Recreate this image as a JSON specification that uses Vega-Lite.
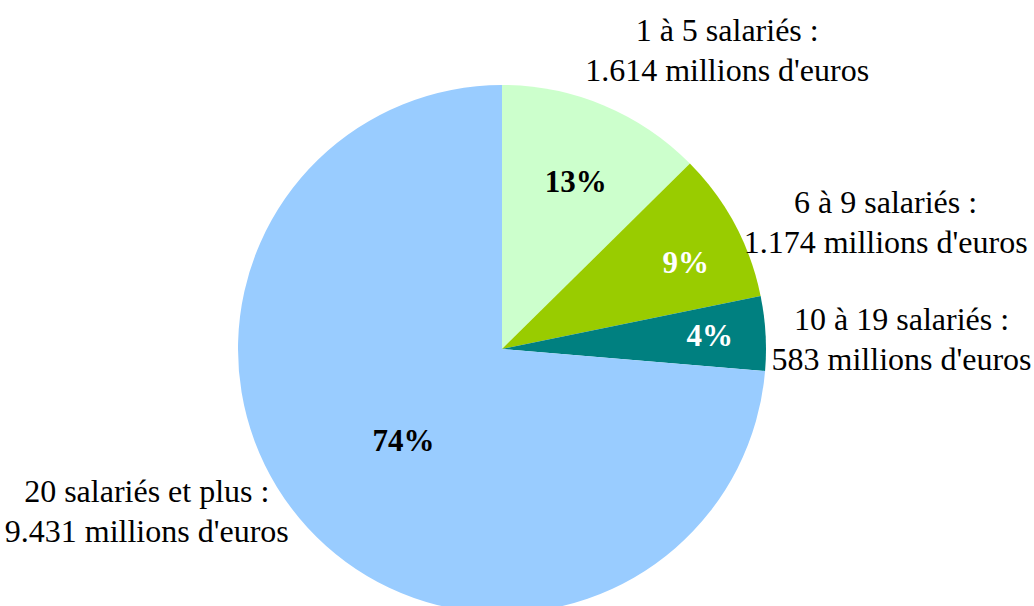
{
  "$schema": "https://vega.github.io/schema/vega-lite/v6.json",
  "width": 1004,
  "height": 514,
  "autosize": {"type": "none"},
  "padding": {"left": 0, "top": 92, "right": 30, "bottom": 0},
  "background": "white",
  "title": {
    "text": "(Source : INSEE – EAE)",
    "font": "Liberation Serif, Times New Roman, serif",
    "fontSize": 29,
    "fontStyle": "italic",
    "fontWeight": "normal",
    "color": "black",
    "anchor": "middle",
    "frame": "group",
    "baseline": "alphabetic",
    "offset": -6,
    "dx": -37
  },
  "data": {
    "values": [
      {"cat": "1 à 5 salariés", "rank": 1, "value": 1614, "pct": "13%", "label": "1 à 5 salariés :\n1.614 millions d'euros"},
      {"cat": "6 à 9 salariés", "rank": 2, "value": 1174, "pct": "9%", "label": "6 à 9 salariés :\n1.174 millions d'euros"},
      {"cat": "10 à 19 salariés", "rank": 3, "value": 583, "pct": "4%", "label": "10 à 19 salariés  :\n583 millions d'euros"},
      {"cat": "20 salariés et plus", "rank": 4, "value": 9431, "pct": "74%", "label": "20 salariés et plus :\n9.431 millions d'euros"}
    ]
  },
  "encoding": {
    "theta": {"field": "value", "type": "quantitative", "stack": true},
    "order": {"field": "rank", "type": "quantitative"}
  },
  "layer": [
    {
      "mark": {"type": "arc", "outerRadius": 264},
      "encoding": {
        "color": {
          "field": "cat",
          "type": "nominal",
          "scale": {
            "domain": ["1 à 5 salariés", "6 à 9 salariés", "10 à 19 salariés", "20 salariés et plus"],
            "range": ["#CCFFCC", "#99CC00", "#008080", "#99CCFF"]
          },
          "legend": null
        }
      }
    },
    {
      "mark": {"type": "text", "font": "Liberation Serif, Times New Roman, serif", "fontSize": 31, "fontWeight": "bold", "color": "black", "align": "center", "baseline": "alphabetic", "dx": 7, "dy": 3},
      "encoding": {
        "radius": {"value": 173},
        "text": {"condition": {"test": "datum.rank === 1", "field": "pct"}, "value": ""}
      }
    },
    {
      "mark": {"type": "text", "font": "Liberation Serif, Times New Roman, serif", "fontSize": 31, "fontWeight": "bold", "color": "white", "align": "center", "baseline": "alphabetic", "dx": 9, "dy": 17},
      "encoding": {
        "radius": {"value": 198},
        "text": {"condition": {"test": "datum.rank === 2", "field": "pct"}, "value": ""}
      }
    },
    {
      "mark": {"type": "text", "font": "Liberation Serif, Times New Roman, serif", "fontSize": 31, "fontWeight": "bold", "color": "white", "align": "center", "baseline": "alphabetic", "dx": 0, "dy": 9},
      "encoding": {
        "radius": {"value": 208},
        "text": {"condition": {"test": "datum.rank === 3", "field": "pct"}, "value": ""}
      }
    },
    {
      "mark": {"type": "text", "font": "Liberation Serif, Times New Roman, serif", "fontSize": 31, "fontWeight": "bold", "color": "black", "align": "center", "baseline": "alphabetic", "dx": 6, "dy": 6},
      "encoding": {
        "radius": {"value": 142},
        "text": {"condition": {"test": "datum.rank === 4", "field": "pct"}, "value": ""}
      }
    },
    {
      "mark": {"type": "text", "font": "Liberation Serif, Times New Roman, serif", "fontSize": 32, "color": "black", "align": "center", "baseline": "alphabetic", "lineBreak": "\n", "lineHeight": 40, "dx": 94, "dy": 6},
      "encoding": {
        "radius": {"value": 340},
        "text": {"condition": {"test": "datum.rank === 1", "field": "label"}, "value": ""}
      }
    },
    {
      "mark": {"type": "text", "font": "Liberation Serif, Times New Roman, serif", "fontSize": 32, "color": "black", "align": "center", "baseline": "alphabetic", "lineBreak": "\n", "lineHeight": 40, "dx": 119, "dy": 5},
      "encoding": {
        "radius": {"value": 300},
        "text": {"condition": {"test": "datum.rank === 2", "field": "label"}, "value": ""}
      }
    },
    {
      "mark": {"type": "text", "font": "Liberation Serif, Times New Roman, serif", "fontSize": 32, "color": "black", "align": "center", "baseline": "alphabetic", "lineBreak": "\n", "lineHeight": 40, "dx": 150, "dy": -4},
      "encoding": {
        "radius": {"value": 250},
        "text": {"condition": {"test": "datum.rank === 3", "field": "label"}, "value": ""}
      }
    },
    {
      "mark": {"type": "text", "font": "Liberation Serif, Times New Roman, serif", "fontSize": 32, "color": "black", "align": "center", "baseline": "alphabetic", "lineBreak": "\n", "lineHeight": 40, "dx": -208, "dy": 18},
      "encoding": {
        "radius": {"value": 200},
        "text": {"condition": {"test": "datum.rank === 4", "field": "label"}, "value": ""}
      }
    }
  ],
  "config": {"view": {"stroke": null}}
}
